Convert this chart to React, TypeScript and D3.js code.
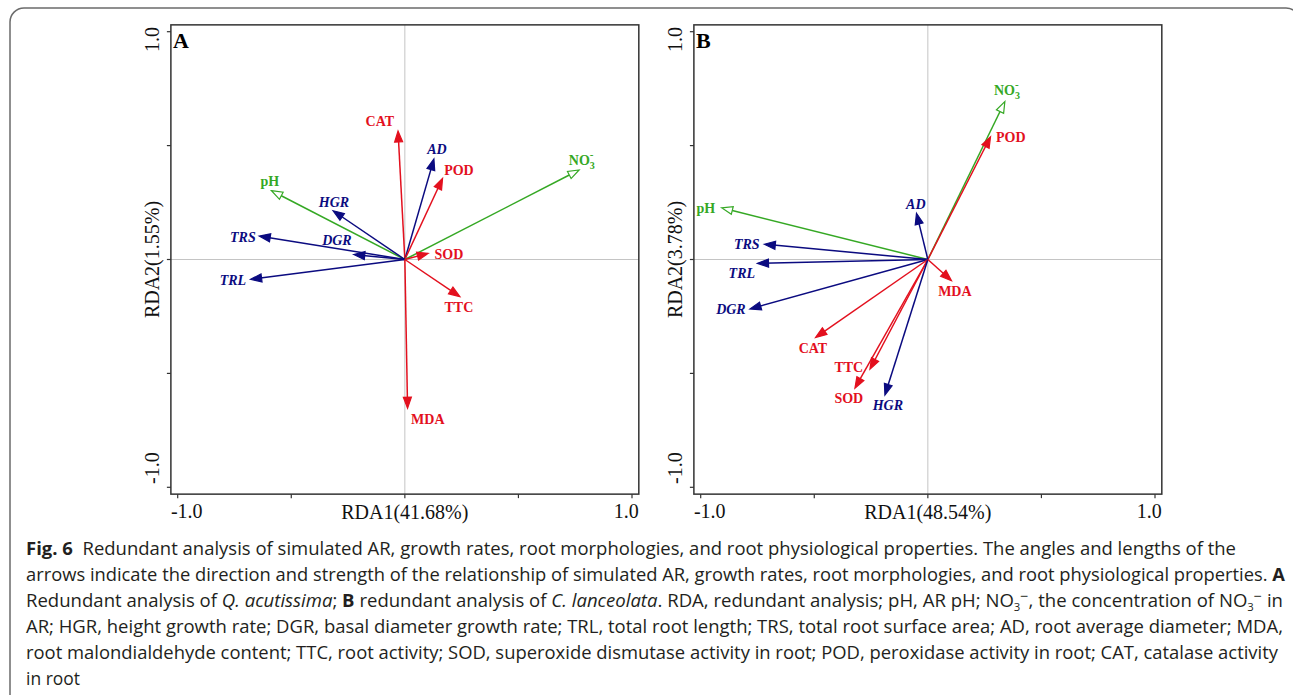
import React from 'react'
import * as d3 from 'd3'

// RDA biplot loadings (arrow tip, label anchor), in axis units
const groupOf = { env: 'green', growth: 'blue', phys: 'red' }

const panelA = [
  { name: 'CAT', kind: 'phys', x: -0.03, y: 0.564, lx: -0.11, ly: 0.608 },
  { name: 'AD', kind: 'growth', x: 0.128, y: 0.441, lx: 0.141, ly: 0.485 },
  { name: 'POD', kind: 'phys', x: 0.166, y: 0.356, lx: 0.238, ly: 0.393 },
  { name: 'NO3', kind: 'env', x: 0.767, y: 0.393, lx: 0.779, ly: 0.437 },
  { name: 'pH', kind: 'env', x: -0.587, y: 0.302, lx: -0.594, ly: 0.343 },
  { name: 'HGR', kind: 'growth', x: -0.316, y: 0.214, lx: -0.312, ly: 0.253 },
  { name: 'TRS', kind: 'growth', x: -0.641, y: 0.103, lx: -0.713, ly: 0.099 },
  { name: 'DGR', kind: 'growth', x: -0.225, y: 0.022, lx: -0.299, ly: 0.086 },
  { name: 'SOD', kind: 'phys', x: 0.103, y: 0.027, lx: 0.194, ly: 0.024 },
  { name: 'TRL', kind: 'growth', x: -0.679, y: -0.087, lx: -0.757, ly: -0.09 },
  { name: 'TTC', kind: 'phys', x: 0.242, y: -0.163, lx: 0.238, ly: -0.209 },
  { name: 'MDA', kind: 'phys', x: 0.012, y: -0.653, lx: 0.101, ly: -0.7 },
]

const panelB = [
  { name: 'NO3', kind: 'env', x: 0.339, y: 0.693, lx: 0.348, ly: 0.744 },
  { name: 'POD', kind: 'phys', x: 0.276, y: 0.539, lx: 0.365, ly: 0.538 },
  { name: 'pH', kind: 'env', x: -0.908, y: 0.227, lx: -0.977, ly: 0.226 },
  { name: 'AD', kind: 'growth', x: -0.05, y: 0.203, lx: -0.053, ly: 0.244 },
  { name: 'TRS', kind: 'growth', x: -0.72, y: 0.067, lx: -0.797, ly: 0.068 },
  { name: 'TRL', kind: 'growth', x: -0.75, y: -0.017, lx: -0.819, ly: -0.059 },
  { name: 'DGR', kind: 'growth', x: -0.783, y: -0.217, lx: -0.867, ly: -0.217 },
  { name: 'CAT', kind: 'phys', x: -0.494, y: -0.342, lx: -0.506, ly: -0.389 },
  { name: 'TTC', kind: 'phys', x: -0.255, y: -0.482, lx: -0.348, ly: -0.472 },
  { name: 'SOD', kind: 'phys', x: -0.321, y: -0.565, lx: -0.348, ly: -0.608 },
  { name: 'HGR', kind: 'growth', x: -0.189, y: -0.595, lx: -0.176, ly: -0.639 },
  { name: 'MDA', kind: 'phys', x: 0.104, y: -0.093, lx: 0.119, ly: -0.138 },
]

const axisTicks = [-1, -0.5, 0, 0.5, 1]
const xTitles = ['RDA1(41.68%)', 'RDA1(48.54%)']
const yTitles = ['RDA2(1.55%)', 'RDA2(3.78%)']
const panelLetters = ['A', 'B']

const colors = { red: '#e3101e', blue: '#0b0b80', green: '#35a824' }
const serif = '"Liberation Serif", "Times New Roman", serif'
const sans = '"Liberation Sans Narrow", "Open Sans", "Noto Sans", sans-serif'

function Arrow({ d, xs, ys }) {
  const c = colors[groupOf[d.kind]]
  const x0 = xs(0), y0 = ys(0)
  const x1 = xs(d.x), y1 = ys(d.y)
  const ang = Math.atan2(y1 - y0, x1 - x0)
  const len = 11, hw = 4
  const bx = x1 - len * Math.cos(ang), by = y1 - len * Math.sin(ang)
  const px = -Math.sin(ang) * hw, py = Math.cos(ang) * hw
  const head = `M${x1},${y1}L${bx + px},${by + py}L${bx - px},${by - py}Z`
  const hollow = d.kind === 'env'
  const lineEnd = hollow ? [bx, by] : [x1 - 4 * Math.cos(ang), y1 - 4 * Math.sin(ang)]
  const italic = d.kind === 'growth'
  return (
    <g>
      <line x1={x0} y1={y0} x2={lineEnd[0]} y2={lineEnd[1]} stroke={c} strokeWidth={1.5} />
      <path d={head} fill={hollow ? '#fff' : c} stroke={c} strokeWidth={1.2} strokeLinejoin="miter" />
      <text x={xs(d.lx)} y={ys(d.ly)} dy="0.35em" textAnchor="middle" fill={c}
        fontFamily={serif} fontSize={14} fontWeight="bold" fontStyle={italic ? 'italic' : 'normal'}>
        {d.name === 'NO3' ? (
          <>
            NO<tspan fontSize={10} dy={4}>3</tspan><tspan fontSize={11} dx={-5} dy={-11}>-</tspan>
          </>
        ) : d.name}
      </text>
    </g>
  )
}

function Panel({ data, i, x0, x1 }) {
  const xs = d3.scaleLinear().domain([-1, 1]).range([x0, x1])
  const ys = d3.scaleLinear().domain([-1, 1]).range([487.3, 31.7])
  const bl = xs(-1.03), br = xs(1.03), bt = ys(1.03), bb = ys(-1.03)
  const tcol = bl - 19
  return (
    <g>
      <line x1={xs(0)} x2={xs(0)} y1={bt} y2={bb} stroke="#c4c4c4" strokeWidth={1} />
      <line x1={bl} x2={br} y1={ys(0)} y2={ys(0)} stroke="#c4c4c4" strokeWidth={1} />
      <rect x={bl} y={bt} width={br - bl} height={bb - bt} fill="none" stroke="#333" strokeWidth={1.5} />
      {axisTicks.map((t) => (
        <g key={t}>
          <line x1={xs(t)} x2={xs(t)} y1={bb} y2={bb + 4} stroke="#333" strokeWidth={1.2} />
          <line x1={bl} x2={bl - 4} y1={ys(t)} y2={ys(t)} stroke="#333" strokeWidth={1.2} />
        </g>
      ))}
      <text x={bl} y={518} fontFamily={serif} fontSize={20} fill="#111">-1.0</text>
      <text x={br} y={518} textAnchor="end" fontFamily={serif} fontSize={20} fill="#111">1.0</text>
      <text x={xs(0)} y={519} textAnchor="middle" fontFamily={serif} fontSize={20} fill="#111">{xTitles[i]}</text>
      <text transform={`translate(${tcol},27) rotate(-90)`} dy="0.35em" textAnchor="end"
        fontFamily={serif} fontSize={20} fill="#111">1.0</text>
      <text transform={`translate(${tcol},484) rotate(-90)`} dy="0.35em" textAnchor="start"
        fontFamily={serif} fontSize={20} fill="#111">-1.0</text>
      <text transform={`translate(${tcol},${ys(0)}) rotate(-90)`} dy="0.35em" textAnchor="middle"
        fontFamily={serif} fontSize={20} fill="#111">{yTitles[i]}</text>
      <text x={bl + 2} y={48} fontFamily={serif} fontSize={22} fontWeight="bold" fill="#000">{panelLetters[i]}</text>
      {data.map((d) => <Arrow key={d.name} d={d} xs={xs} ys={ys} />)}
    </g>
  )
}

const captionEnds = [1236, 1285, 1283, 1283, 1278, 80]

export default function App() {
  const capX = 26
  const base = 555
  const lh = 26
  const cs = { fontFamily: sans, fontSize: 18, fill: '#231f20' }
  const L = (k) => ({ x: capX, y: base + k * lh, textLength: captionEnds[k] - capX, lengthAdjust: 'spacingAndGlyphs', ...cs })
  return (
    <svg width={1293} height={695} style={{ position: 'absolute', left: 0, top: 0, background: '#fff' }}>
      <rect x={10} y={8} width={1290} height={710} rx={14} fill="#fff" stroke="#6b6b6b" strokeWidth={1.5} />
      <Panel data={panelA} i={0} x0={177.7} x1={632} />
      <Panel data={panelB} i={1} x0={700.7} x1={1155} />
      <text {...L(0)}>
        <tspan fontWeight="bold">Fig. 6</tspan>{'\u00a0 Redundant analysis of simulated AR, growth rates, root morphologies, and root physiological properties. The angles and lengths of the'}
      </text>
      <text {...L(1)}>
        {'arrows indicate the direction and strength of the relationship of simulated AR, growth rates, root morphologies, and root physiological properties. '}<tspan fontWeight="bold">A</tspan>
      </text>
      <text {...L(2)}>
        {'Redundant analysis of '}<tspan fontStyle="italic">Q. acutissima</tspan>{'; '}<tspan fontWeight="bold">B</tspan>
        {' redundant analysis of '}<tspan fontStyle="italic">C. lanceolata</tspan>{'. RDA, redundant analysis; pH, AR pH; NO'}
        <tspan fontSize={11} dy={4}>3</tspan><tspan fontSize={14} dy={-10}>{'\u2212'}</tspan><tspan dy={6}>{', the concentration of NO'}</tspan>
        <tspan fontSize={11} dy={4}>3</tspan><tspan fontSize={14} dy={-10}>{'\u2212'}</tspan><tspan dy={6}>{' in'}</tspan>
      </text>
      <text {...L(3)}>
        AR; HGR, height growth rate; DGR, basal diameter growth rate; TRL, total root length; TRS, total root surface area; AD, root average diameter; MDA,
      </text>
      <text {...L(4)}>
        root malondialdehyde content; TTC, root activity; SOD, superoxide dismutase activity in root; POD, peroxidase activity in root; CAT, catalase activity
      </text>
      <text {...L(5)}>in root</text>
    </svg>
  )
}
